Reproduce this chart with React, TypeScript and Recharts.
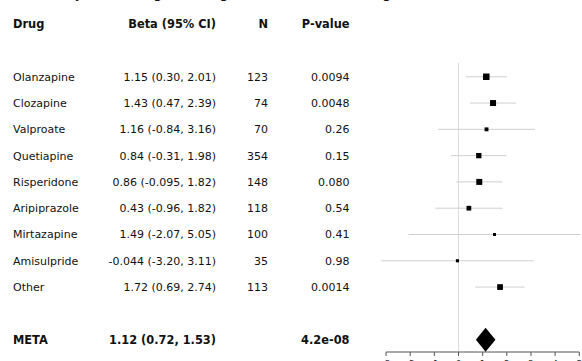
import { ErrorBar, ReferenceLine, Scatter, ScatterChart, XAxis, YAxis } from "recharts";

// Forest plot: per-drug beta estimates with 95% CI, plus the pooled (META) estimate.

const DRUGS = [
  "Olanzapine",
  "Clozapine",
  "Valproate",
  "Quetiapine",
  "Risperidone",
  "Aripiprazole",
  "Mirtazapine",
  "Amisulpride",
  "Other",
];
const BETA = [1.15, 1.43, 1.16, 0.84, 0.86, 0.43, 1.49, -0.044, 1.72];
const LOWER = [0.3, 0.47, -0.84, -0.31, -0.095, -0.96, -2.07, -3.2, 0.69];
const UPPER = [2.01, 2.39, 3.16, 1.98, 1.82, 1.82, 5.05, 3.11, 2.74];
const CI_TEXT = [
  "1.15 (0.30, 2.01)",
  "1.43 (0.47, 2.39)",
  "1.16 (-0.84, 3.16)",
  "0.84 (-0.31, 1.98)",
  "0.86 (-0.095, 1.82)",
  "0.43 (-0.96, 1.82)",
  "1.49 (-2.07, 5.05)",
  "-0.044 (-3.20, 3.11)",
  "1.72 (0.69, 2.74)",
];
const N = [123, 74, 70, 354, 148, 118, 100, 35, 113];
const P_VALUES = ["0.0094", "0.0048", "0.26", "0.15", "0.080", "0.54", "0.41", "0.98", "0.0014"];

const META_BETA = 1.12;
const META_LOWER = 0.72;
const META_UPPER = 1.53;
const META_TEXT = "1.12 (0.72, 1.53)";
const META_P = "4.2e-08";

const HEADERS = ["Drug", "Beta (95% CI)", "N", "P-value"];
const X_TICKS = [-3, -2, -1, 0, 1, 2, 3, 4, 5];

const TITLE = "Meta-analysis of weight change effect for each drug.";

// row layout: 0 = header, 1 = gap, 2..10 = drugs, 11 = gap, 12 = META
const FIRST_ROW = 2;
const META_ROW = 12;
const Y_TOP = -0.92;
const Y_BOTTOM = 12.47;

type TableRow = { cells: string[]; bold: boolean };

const table: Record<number, TableRow> = { 0: { cells: HEADERS, bold: true } };
DRUGS.forEach((d, i) => {
  table[FIRST_ROW + i] = { cells: [d, CI_TEXT[i], String(N[i]), P_VALUES[i]], bold: false };
});
table[META_ROW] = { cells: ["META", META_TEXT, "", META_P], bold: true };
const tableRows = Object.keys(table).map(Number);

const points = DRUGS.map((d, i) => ({
  drug: d,
  x: BETA[i],
  y: FIRST_ROW + i,
  err: [BETA[i] - LOWER[i], UPPER[i] - BETA[i]],
  se: (UPPER[i] - LOWER[i]) / 3.92,
}));

const metaPoints = [
  { x: META_LOWER, y: META_ROW },
  { x: META_BETA, y: META_ROW },
  { x: META_UPPER, y: META_ROW },
];

const FONT = "'DejaVu Sans', sans-serif";
// column anchors: [x, text-anchor]
const COLUMNS: [number, "start" | "end"][] = [
  [13, "start"],
  [216, "end"],
  [268, "end"],
  [349.5, "end"],
];

function RowTick(props: any) {
  const row = table[props.payload?.value];
  if (!row) return <g />;
  return (
    <g>
      {row.cells.map((c, i) => (
        <text
          key={i}
          x={COLUMNS[i][0]}
          y={props.y}
          dy="0.36em"
          textAnchor={COLUMNS[i][1]}
          fontFamily={FONT}
          fontSize={row.bold ? 11.4 : 11}
          fontWeight={row.bold ? 700 : 400}
          fill="#111"
        >
          {c}
        </text>
      ))}
    </g>
  );
}

function Box(props: any) {
  const s = 1.9 + 2.0 / props.payload.se;
  return <rect x={props.cx - s / 2} y={props.cy - s / 2} width={s} height={s} fill="#000" />;
}

function Diamond(props: any) {
  const pts = props.points;
  if (!pts || pts.length < 3) return <g />;
  const [l, c, r] = pts;
  const h = 12;
  const d = `M${l.x},${l.y} L${c.x},${c.y - h} L${r.x},${r.y} L${c.x},${c.y + h} Z`;
  return <path d={d} fill="#000" stroke="none" />;
}

export default function App() {
  return (
    <div style={{ position: "absolute", left: 0, top: 0, width: 582, height: 361, overflow: "hidden", background: "#fff" }}>
      <div
        style={{
          position: "absolute",
          left: 0,
          top: -17,
          fontFamily: FONT,
          fontSize: 15,
          whiteSpace: "nowrap",
          color: "#111",
          lineHeight: "20px",
        }}
      >
        {TITLE}
      </div>
      <ScatterChart width={582} height={361} margin={{ top: 0, right: 1.5, bottom: 0, left: 0 }}>
        <XAxis
          type="number"
          dataKey="x"
          domain={[-3.2, 5.05]}
          allowDataOverflow
          ticks={X_TICKS}
          axisLine={false}
          tickLine={{ stroke: "#555" }}
          tickSize={4}
          tickMargin={5}
          height={9}
          tick={{ fontSize: 9, fill: "#333", fontFamily: FONT }}
        />
        <YAxis
          type="number"
          dataKey="y"
          domain={[Y_TOP, Y_BOTTOM]}
          allowDataOverflow
          reversed
          ticks={tableRows}
          interval={0}
          width={381.2}
          axisLine={false}
          tickLine={false}
          tick={<RowTick />}
        />
        <ReferenceLine
          segment={[
            { x: 0, y: 1.47 },
            { x: 0, y: Y_BOTTOM },
          ]}
          stroke="#dcdcdc"
          strokeWidth={1}
        />
        <ReferenceLine
          segment={[
            { x: -3, y: Y_BOTTOM },
            { x: 5, y: Y_BOTTOM },
          ]}
          stroke="#555"
          strokeWidth={1}
        />
        <Scatter data={points} shape={<Box />} isAnimationActive={false}>
          <ErrorBar dataKey="err" direction="x" width={0} stroke="#cfcfcf" strokeWidth={1} isAnimationActive={false} />
        </Scatter>
        <Scatter data={metaPoints} line={(p: any) => <Diamond {...p} />} shape={() => <g />} isAnimationActive={false} />
      </ScatterChart>
    </div>
  );
}
